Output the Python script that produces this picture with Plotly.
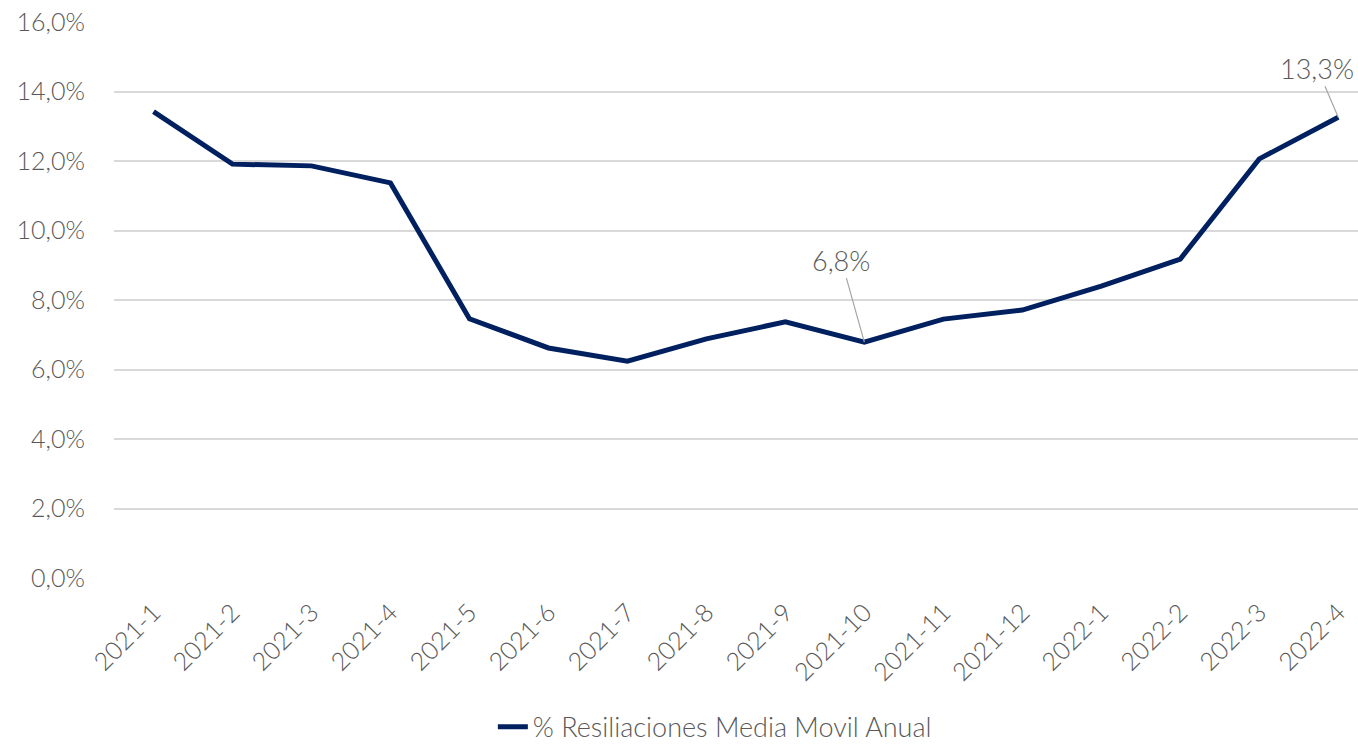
import plotly.graph_objects as go

periods = ["2021-1", "2021-2", "2021-3", "2021-4", "2021-5", "2021-6", "2021-7", "2021-8",
           "2021-9", "2021-10", "2021-11", "2021-12", "2022-1", "2022-2", "2022-3", "2022-4"]
values = [13.42, 11.91, 11.86, 11.37, 7.46, 6.62, 6.24, 6.88,
          7.37, 6.79, 7.45, 7.71, 8.40, 9.18, 12.06, 13.26]
series_name = "% Resiliaciones Media Movil Anual"
y_ticks = [0, 2, 4, 6, 8, 10, 12, 14, 16]
y_tick_labels = ["0,0%", "2,0%", "4,0%", "6,0%", "8,0%", "10,0%", "12,0%", "14,0%", "16,0%"]
labelled = {"2021-10": "6,8%", "2022-4": "13,3%"}

GREY = "#595959"
FONT = "Lato"
W = 300

fig = go.Figure()
fig.add_trace(go.Scatter(
    x=list(range(len(periods))), y=values, mode="lines", name=series_name,
    line=dict(color="#002060", width=5),
))

offsets = {"2021-10": (-23, -82), "2022-4": (-21, -49)}
for p, txt in labelled.items():
    i = periods.index(p)
    ax, ay = offsets[p]
    fig.add_annotation(x=i, y=values[i], text=txt, showarrow=True, arrowhead=0,
                       arrowwidth=1.2, arrowcolor="#A6A6A6", ax=ax, ay=ay,
                       font=dict(family=FONT, size=27, color=GREY, weight=W))

fig.update_layout(
    width=1358, height=745,
    margin=dict(l=114, r=0, t=22, b=167, autoexpand=False),
    paper_bgcolor="white", plot_bgcolor="white",
    font=dict(family=FONT, color=GREY, size=25, weight=W),
    showlegend=True,
    legend=dict(orientation="h", x=0.483, xanchor="center", yref="container",
                y=0.024, yanchor="middle",
                font=dict(family=FONT, size=27, color=GREY, weight=W)),
    xaxis=dict(tickmode="array", tickvals=list(range(len(periods))), ticktext=periods,
               range=[-0.5, 15.25], showgrid=False, zeroline=False, showline=False,
               tickangle=-45, ticklabelstandoff=14, automargin=False,
               tickfont=dict(family=FONT, size=25, color=GREY, weight=W)),
    yaxis=dict(range=[0, 16], tickmode="array", tickvals=y_ticks, ticktext=y_tick_labels,
               showgrid=True, gridcolor="#D9D9D9", gridwidth=2, zeroline=False, automargin=False,
               tickfont=dict(family=FONT, size=25, color=GREY, weight=W), ticklabelstandoff=28),
)

fig.write_html("out.html", config={"displayModeBar": False},
               post_script="document.body.style.margin='0';document.body.style.overflow='hidden';")
